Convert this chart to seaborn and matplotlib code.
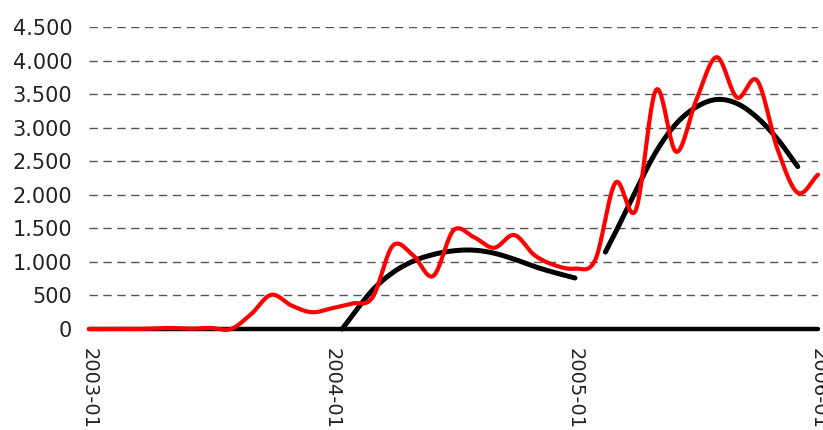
import numpy as np
import pandas as pd
import matplotlib
matplotlib.use('Agg')
import matplotlib.pyplot as plt
from matplotlib.ticker import FuncFormatter, FixedLocator
import seaborn as sns

sns.set_style('white')
plt.rcParams['font.family'] = ['DejaVu Sans']

# 数据：2003-01 到 2006-01 的月度数值
months = ['2003-01', '2003-02', '2003-03', '2003-04', '2003-05', '2003-06',
          '2003-07', '2003-08', '2003-09', '2003-10', '2003-11', '2003-12',
          '2004-01', '2004-02', '2004-03', '2004-04', '2004-05', '2004-06',
          '2004-07', '2004-08', '2004-09', '2004-10', '2004-11', '2004-12',
          '2005-01', '2005-02', '2005-03', '2005-04', '2005-05', '2005-06',
          '2005-07', '2005-08', '2005-09', '2005-10', '2005-11', '2005-12',
          '2006-01']
values = [0, 0, 0, 5, 15, 5, 15, 0, 220, 510, 350, 250,
          310, 380, 470, 1240, 1100, 790, 1470, 1370, 1210, 1400, 1100, 950,
          900, 1030, 2180, 1770, 3560, 2640, 3420, 4050, 3450, 3700, 2680, 2030,
          2300]

# 趋势线（黑色），x 为月份序号
trend1_x = [12.5, 13, 14, 15, 16, 17, 18, 19, 20, 21, 22, 23, 24]
trend1_y = [0, 200, 580, 840, 1010, 1110, 1165, 1175, 1130, 1040, 930, 840, 760]
trend2_x = [25.5, 26, 27, 28, 29, 30, 31, 32, 33, 34, 35]
trend2_y = [1146, 1440, 2060, 2640, 3060, 3310, 3420, 3360, 3150, 2830, 2420]

tick_labels = ['2003-01', '2004-01', '2005-01', '2006-01']
y_ticks = [0, 500, 1000, 1500, 2000, 2500, 3000, 3500, 4000, 4500]


def smooth(xs, ys, n=24):
    # Catmull-Rom 平滑（类似 Excel 的平滑线）
    pts = np.column_stack([xs, ys]).astype(float)
    p = np.vstack([2 * pts[0] - pts[1], pts, 2 * pts[-1] - pts[-2]])
    t = np.linspace(0, 1, n, endpoint=False)[:, None]
    out = []
    for i in range(1, len(p) - 2):
        p0, p1, p2, p3 = p[i - 1], p[i], p[i + 1], p[i + 2]
        out.append(0.5 * (2 * p1 + (-p0 + p2) * t
                          + (2 * p0 - 5 * p1 + 4 * p2 - p3) * t ** 2
                          + (-p0 + 3 * p1 - 3 * p2 + p3) * t ** 3))
    out.append(pts[-1:])
    s = np.vstack(out)
    return s[:, 0], s[:, 1]


fig = plt.figure(figsize=(8.23, 4.30), dpi=100)
ax = fig.add_axes([89 / 823, 101 / 430, 729 / 823, 302 / 430])

x_pos = list(range(len(months)))
sx, sy = smooth(x_pos, values)
sns.lineplot(x=sx, y=sy, ax=ax, color='#ff0000', linewidth=3.0,
             sort=False, estimator=None, zorder=4, clip_on=False)

for tx, ty in [(trend1_x, trend1_y), (trend2_x, trend2_y)]:
    bx, by = smooth(tx, ty)
    sns.lineplot(x=bx, y=by, ax=ax, color='black', linewidth=3.6,
                 sort=False, estimator=None, zorder=3, clip_on=False)

ax.set_xlim(0, len(months) - 1)
ax.set_ylim(0, 4500)

ax.yaxis.set_major_locator(FixedLocator(y_ticks))
ax.yaxis.set_major_formatter(FuncFormatter(lambda v, p: f'{v:,.0f}'.replace(',', '.')))
ax.set_xticks([months.index(m) for m in tick_labels])
ax.set_xticklabels(tick_labels, rotation=-90, ha='center', va='top')

ax.tick_params(axis='y', length=0, pad=12, labelsize=15, labelcolor='#222222')
ax.tick_params(axis='x', length=0, pad=14, labelsize=14, labelcolor='#222222')

ax.yaxis.grid(True, color='#555555', linewidth=1.0, linestyle=(0, (6, 4)))
ax.xaxis.grid(False)
ax.set_axisbelow(True)

for side in ['top', 'right', 'left']:
    ax.spines[side].set_visible(False)
ax.spines['bottom'].set_color('black')
ax.spines['bottom'].set_linewidth(3.2)
ax.spines['bottom'].set_capstyle('round')

ax.set_xlabel('')
ax.set_ylabel('')

plt.savefig('out.png', dpi=100)
